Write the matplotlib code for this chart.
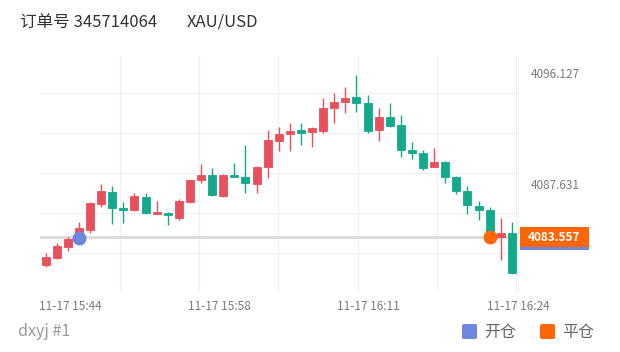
import matplotlib
matplotlib.use("Agg")
import matplotlib.pyplot as plt
import matplotlib.transforms as mtransforms
from matplotlib.patches import Rectangle, FancyBboxPatch
import numpy as np

plt.rcParams['font.family'] = ['Noto Sans CJK SC', 'DejaVu Sans']

# 1分钟K线 (11-17 15:42 ~ 16:24)
opens = [4081.431, 4081.967, 4082.809, 4083.727, 4084.110, 4086.100, 4087.019, 4085.794, 4085.641, 4086.636,
         4085.334, 4085.411, 4085.028, 4086.253, 4087.937, 4088.320, 4086.712, 4088.320, 4088.167, 4087.631,
         4088.932, 4090.922, 4091.458, 4091.764, 4091.611, 4091.688, 4093.448, 4093.907, 4094.290, 4093.831,
         4091.764, 4092.759, 4092.147, 4090.234, 4090.004, 4088.932, 4089.315, 4088.167, 4087.095, 4085.947,
         4085.641, 4083.574, 4083.880]
highs = [4082.350, 4083.115, 4083.574, 4084.722, 4086.253, 4087.631, 4087.478, 4086.253, 4086.942, 4086.942,
         4086.330, 4085.488, 4086.483, 4087.937, 4089.162, 4088.856, 4088.397, 4089.238, 4090.616, 4089.009,
         4091.764, 4091.994, 4092.300, 4092.300, 4091.994, 4094.213, 4094.596, 4095.056, 4095.974, 4094.443,
         4093.448, 4093.831, 4092.912, 4090.846, 4090.234, 4090.387, 4089.391, 4088.244, 4087.478, 4086.330,
         4085.870, 4085.028, 4084.722]
lows = [4081.278, 4081.890, 4082.503, 4083.574, 4083.880, 4085.870, 4084.569, 4084.646, 4085.564, 4085.334,
        4085.334, 4084.493, 4084.875, 4086.176, 4087.708, 4086.712, 4086.636, 4088.167, 4086.942, 4086.942,
        4088.090, 4090.157, 4090.157, 4090.616, 4090.463, 4091.535, 4092.300, 4093.066, 4093.142, 4091.535,
        4090.922, 4091.994, 4089.698, 4089.544, 4088.703, 4088.932, 4087.708, 4086.865, 4085.334, 4084.875,
        4083.651, 4081.814, 4080.742]
closes = [4082.043, 4082.885, 4083.421, 4084.263, 4086.176, 4087.095, 4085.794, 4085.641, 4086.712, 4085.411,
          4085.488, 4085.258, 4086.330, 4087.937, 4088.320, 4086.789, 4088.320, 4088.167, 4087.708, 4088.932,
          4090.999, 4091.458, 4091.688, 4091.535, 4091.917, 4093.448, 4093.907, 4094.213, 4093.831, 4091.688,
          4092.759, 4092.070, 4090.234, 4090.004, 4088.856, 4089.315, 4088.167, 4087.095, 4086.023, 4085.641,
          4083.727, 4083.880, 4080.819]

xtick_labels = ['11-17 15:44', '11-17 15:58', '11-17 16:11', '11-17 16:24']
ytick_vals = [4096.127, 4087.631]

open_idx, open_price = 3, 4083.498     # 开仓
close_idx, close_price = 40, 4083.557  # 平仓

RED = '#E9505E'
GREEN = '#13A98B'
BLUE = '#6C87DD'
ORANGE = '#FF6608'

fig = plt.figure(figsize=(6.2, 3.52), dpi=100)
ax = fig.add_axes([40 / 620, 1 - 292 / 352, 478 / 620, 236 / 352])

x = np.arange(len(opens))
for i in x:
    o, h, l, c = opens[i], highs[i], lows[i], closes[i]
    col = RED if c >= o else GREEN
    ax.vlines(i, l, h, color=col, lw=1.0, zorder=3)
    lo = min(o, c)
    hgt = max(abs(c - o), 0.12)
    ax.add_patch(Rectangle((i - 0.36, lo), 0.72, hgt, facecolor=col, edgecolor=col, lw=0.6, zorder=4))

# 开仓/平仓价格线
ax.axhline(open_price, color='#dcdcdc', lw=1.4, zorder=2)
ax.axhline(close_price, color='#dcdcdc', lw=1.4, zorder=2)

ax.plot(open_idx, open_price, 'o', ms=9, color=BLUE, zorder=6)
ax.plot(close_idx, close_price, 'o', ms=9, color=ORANGE, zorder=6)

ax.set_xlim(-0.51, 42.39)
ax.set_ylim(4079.36, 4097.43)

# 网格
ax.set_xticks(np.linspace(6.66, 42.39, 6), minor=True)
ax.set_yticks(np.linspace(4094.596, 4082.350, 5), minor=True)
ax.grid(which='minor', color='#f0f0f0', lw=0.9)
ax.tick_params(which='minor', length=0)

ax.set_xticks(np.linspace(2.18, 42.55, 4))
ax.set_xticklabels(xtick_labels)
ax.yaxis.tick_right()
ax.set_yticks(ytick_vals)
ax.set_yticklabels([f'{v:.3f}' for v in ytick_vals])
ax.tick_params(which='major', length=0, labelsize=8.5, colors='#7a7a7a', pad=6)
ax.tick_params(axis='y', pad=9)

for s in ['left', 'bottom', 'top']:
    ax.spines[s].set_visible(False)
ax.spines['right'].set_color('#f0f0f0')

# 右侧价格标签 (蓝色开仓标签被橙色平仓标签遮住)
trans = mtransforms.blended_transform_factory(ax.transAxes, ax.transData)
box_w, box_h = 0.1445, 1.53
ax.add_patch(Rectangle((1.004, open_price - 0.12 - box_h / 2), box_w, box_h, transform=trans,
                       fc=BLUE, ec='none', clip_on=False, zorder=7))
ax.add_patch(Rectangle((1.004, close_price - box_h / 2), box_w, box_h, transform=trans,
                       fc=ORANGE, ec='none', clip_on=False, zorder=8))
ax.text(1.004 + box_w / 2, close_price, f'{close_price:.3f}', transform=trans, va='center', ha='center',
        fontsize=8.5, fontweight='bold', color='white', zorder=9, clip_on=False)

# 标题
fig.text(20 / 620, 1 - 22 / 352, '订单号 345714064', fontsize=12, color='#333333', va='center')
fig.text(187 / 620, 1 - 22 / 352, 'XAU/USD', fontsize=12, color='#333333', va='center')

# 底部
fig.text(18 / 620, 1 - 332 / 352, 'dxyj #1', fontsize=11.5, color='#999999', va='center')
fig.patches.append(FancyBboxPatch((462 / 620, 1 - 339 / 352), 15 / 620, 15 / 352,
                                  boxstyle='round,pad=0,rounding_size=0.004', fc=BLUE, ec='none',
                                  transform=fig.transFigure, figure=fig))
fig.text(484 / 620, 1 - 332 / 352, '开仓', fontsize=11.5, color='#666666', va='center')
fig.patches.append(FancyBboxPatch((540 / 620, 1 - 339 / 352), 15 / 620, 15 / 352,
                                  boxstyle='round,pad=0,rounding_size=0.004', fc=ORANGE, ec='none',
                                  transform=fig.transFigure, figure=fig))
fig.text(562 / 620, 1 - 332 / 352, '平仓', fontsize=11.5, color='#666666', va='center')

fig.savefig('out.png', dpi=100)
